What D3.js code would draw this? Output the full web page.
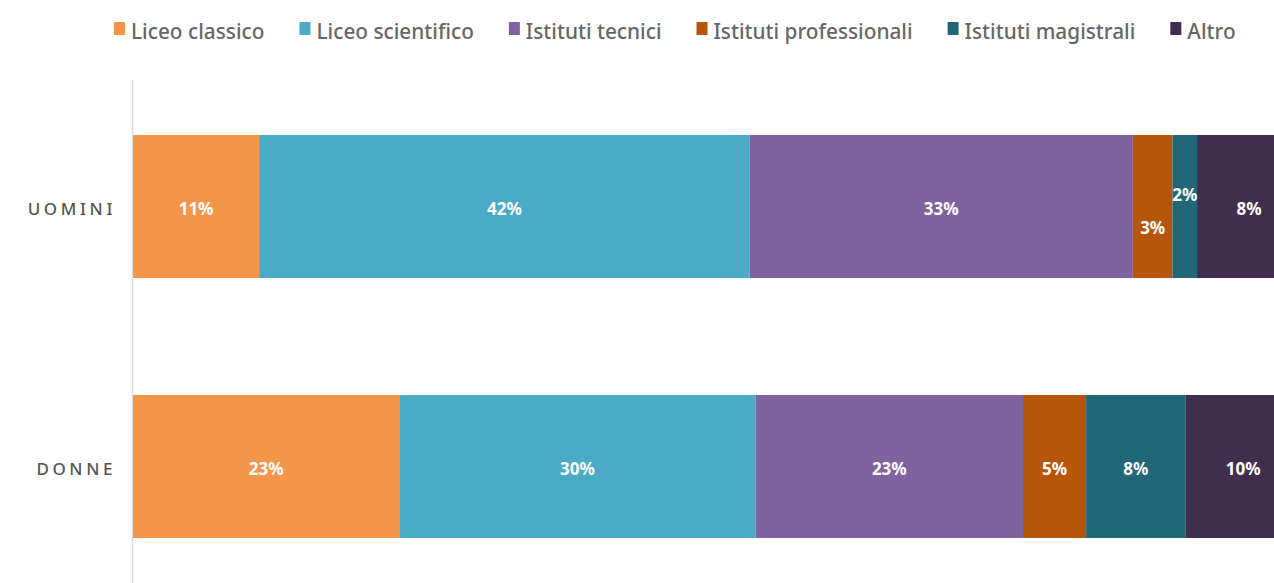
<!DOCTYPE html>
<html><head><meta charset="utf-8">
<script src="https://cdn.jsdelivr.net/npm/d3@7"></script>
<style>
html,body{margin:0;padding:0;background:#fff;overflow:hidden;}
svg{display:block;}
</style></head>
<body>
<svg id="c" width="1274" height="583"></svg>
<script>
const categories = ["UOMINI", "DONNE"];
const seriesNames = ["Liceo classico", "Liceo scientifico", "Istituti tecnici", "Istituti professionali", "Istituti magistrali", "Altro"];
const seriesColors = ["#F4964A", "#4BABC6", "#7F62A0", "#B7560B", "#226778", "#3F2E4E"];
const uominiValues = [10.8, 42.0, 32.8, 3.4, 2.1, 8.9];
const donneValues = [22.8, 30.5, 22.9, 5.4, 8.5, 9.9];
const uominiLabels = ["11%", "42%", "33%", "3%", "2%", "8%"];
const donneLabels = ["23%", "30%", "23%", "5%", "8%", "10%"];

const FONT = "'Noto Sans','Open Sans',sans-serif";
const svg = d3.select("#c");

const rows = categories.map((c, i) => {
  const vals = i === 0 ? uominiValues : donneValues;
  const labs = i === 0 ? uominiLabels : donneLabels;
  let acc = 0;
  return {cat: c, segs: vals.map((v, j) => { const s = {cat: c, j, x0: acc, x1: acc + v, label: labs[j]}; acc += v; return s; })};
});

const x = d3.scaleLinear().domain([0, 100]).range([133, 1301]);
const y = d3.scaleBand().domain(categories).range([5, 668]).paddingInner(0.45).paddingOuter(0.5);

svg.append("line").attr("x1", 132.5).attr("x2", 132.5).attr("y1", 80).attr("y2", 583)
  .attr("stroke", "#dcdcdc").attr("stroke-width", 1.5);

svg.append("g").selectAll("text").data(categories).join("text")
  .attr("x", 116).attr("y", d => y(d) + y.bandwidth() / 2 + 2)
  .attr("text-anchor", "end").attr("dominant-baseline", "central")
  .attr("font-family", FONT).attr("font-size", 17).attr("font-weight", 500).attr("letter-spacing", 3.6)
  .attr("fill", "#555").text(d => d);

const g = svg.append("g");
rows.forEach(r => {
  g.selectAll(null).data(r.segs).join("rect")
    .attr("x", d => x(d.x0)).attr("width", d => x(d.x1) - x(d.x0))
    .attr("y", y(r.cat)).attr("height", y.bandwidth())
    .attr("fill", d => seriesColors[d.j]);
  g.selectAll(null).data(r.segs).join("text")
    .attr("x", d => (x(d.x0) + x(d.x1)) / 2)
    .attr("y", d => {
      const w = x(d.x1) - x(d.x0);
      let off = 2;
      if (w < 45) off = (d.j % 2 === 1) ? 21 : -12;
      return y(r.cat) + y.bandwidth() / 2 + off;
    })
    .attr("text-anchor", "middle").attr("dominant-baseline", "central")
    .attr("font-family", FONT).attr("font-weight", "bold").attr("font-size", 17)
    .attr("fill", "#fff").text(d => d.label);
});

const lg = svg.append("g");
const sx = 0.925;
let lx = 114;
seriesNames.forEach((n, i) => {
  lg.append("rect").attr("x", lx).attr("y", 22).attr("width", 11).attr("height", 13).attr("fill", seriesColors[i]);
  const t = lg.append("text").attr("transform", `translate(${lx + 17},30) scale(${sx},1)`)
    .attr("dominant-baseline", "central")
    .attr("font-family", FONT).attr("font-size", 22.5).attr("font-weight", 500).attr("fill", "#666").text(n);
  const w = t.node().getComputedTextLength() * sx;
  lx = lx + 17 + w + 35;
});
</script>
</body></html>
